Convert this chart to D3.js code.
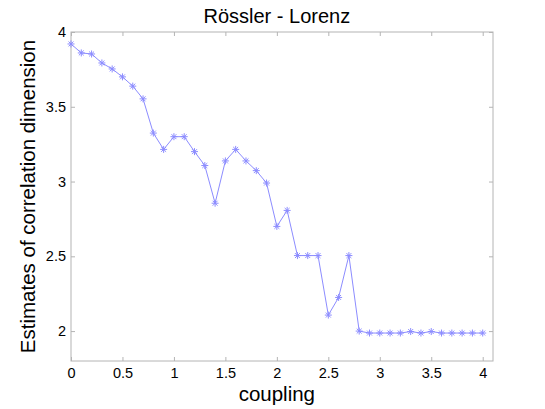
<!DOCTYPE html>
<html>
<head>
<meta charset="utf-8">
<script src="https://cdn.jsdelivr.net/npm/d3@7"></script>
<style>
  body { margin: 0; background: #fff; }
  svg { display: block; font-family: "Liberation Sans", Arial, Helvetica, sans-serif; }
</style>
</head>
<body>
<svg id="chart" width="545" height="409"></svg>
<script>
// coupling values and estimated correlation dimension
const coupling = d3.range(0, 41).map((i) => +(i * 0.1).toFixed(1));
const dimension = [
  3.92, 3.86, 3.853, 3.793, 3.753, 3.70, 3.638, 3.553, 3.324, 3.215,
  3.30, 3.30, 3.20, 3.107, 2.855, 3.138, 3.215, 3.138, 3.073, 2.99,
  2.70, 2.807, 2.505, 2.505, 2.505, 2.107, 2.225, 2.505, 2.0, 1.987,
  1.987, 1.987, 1.987, 1.997, 1.987, 1.997, 1.987, 1.987, 1.987, 1.987,
  1.987
];
const xTicks = [0, 0.5, 1, 1.5, 2, 2.5, 3, 3.5, 4];
const yTicks = [2, 2.5, 3, 3.5, 4];

const title = 'Rössler - Lorenz';
const xLabel = 'coupling';
const yLabel = 'Estimates of correlation dimension';

const margin = { top: 32, right: 52, bottom: 48, left: 71 };
const width = 545 - margin.left - margin.right;
const height = 409 - margin.top - margin.bottom;
const axisColor = '#b4b4b4';
const lineColor = '#8c8cff';

const svg = d3.select('#chart');
const g = svg.append('g').attr('transform', `translate(${margin.left},${margin.top})`);

const x = d3.scaleLinear().domain([0, 4.1]).range([0, width]);
const y = d3.scaleLinear().domain([1.8, 4]).range([height, 0]);

const data = coupling.map((c, i) => ({ c, d: dimension[i] }));

// axes, matlab style: ticks inside, mirrored on top and right
const styleAxis = (sel, showText) => {
  sel.select('.domain').remove();
  sel.selectAll('line').attr('stroke', axisColor);
  sel.selectAll('text')
    .attr('fill', '#000')
    .style('font-size', '14.5px')
    .style('display', showText ? null : 'none');
};

g.append('g')
  .attr('transform', `translate(0,${height})`)
  .call(d3.axisBottom(x).tickValues(xTicks).tickFormat(d3.format('')).tickSizeInner(-4).tickPadding(7))
  .call((s) => styleAxis(s, true));

g.append('g')
  .call(d3.axisTop(x).tickValues(xTicks).tickSizeInner(-4))
  .call((s) => styleAxis(s, false));

g.append('g')
  .call(d3.axisLeft(y).tickValues(yTicks).tickFormat(d3.format('')).tickSizeInner(-4).tickPadding(5))
  .call((s) => styleAxis(s, true));

g.append('g')
  .attr('transform', `translate(${width},0)`)
  .call(d3.axisRight(y).tickValues(yTicks).tickSizeInner(-4))
  .call((s) => styleAxis(s, false));

g.append('rect')
  .attr('width', width)
  .attr('height', height)
  .attr('fill', 'none')
  .attr('stroke', axisColor)
  .attr('stroke-width', 1);

// line
g.append('path')
  .datum(data)
  .attr('fill', 'none')
  .attr('stroke', lineColor)
  .attr('stroke-width', 1)
  .attr('d', d3.line().x((d) => x(d.c)).y((d) => y(d.d)));

// asterisk markers
const r = 3.5;
const star = `M${-r},0H${r}M0,${-r}V${r}M${-r * 0.7},${-r * 0.7}L${r * 0.7},${r * 0.7}M${-r * 0.7},${r * 0.7}L${r * 0.7},${-r * 0.7}`;
g.selectAll('.marker')
  .data(data)
  .join('path')
  .attr('class', 'marker')
  .attr('transform', (d) => `translate(${x(d.c)},${y(d.d)})`)
  .attr('d', star)
  .attr('fill', 'none')
  .attr('stroke', lineColor)
  .attr('stroke-width', 1);

// labels
svg.append('text')
  .attr('x', margin.left + x(2))
  .attr('y', 23)
  .attr('text-anchor', 'middle')
  .style('font-size', '20px')
  .text(title);

svg.append('text')
  .attr('x', margin.left + x(2))
  .attr('y', 401)
  .attr('text-anchor', 'middle')
  .style('font-size', '20.5px')
  .text(xLabel);

svg.append('text')
  .attr('transform', `translate(35,${margin.top + height / 2}) rotate(-90)`)
  .attr('text-anchor', 'middle')
  .style('font-size', '20.5px')
  .text(yLabel);
</script>
</body>
</html>
